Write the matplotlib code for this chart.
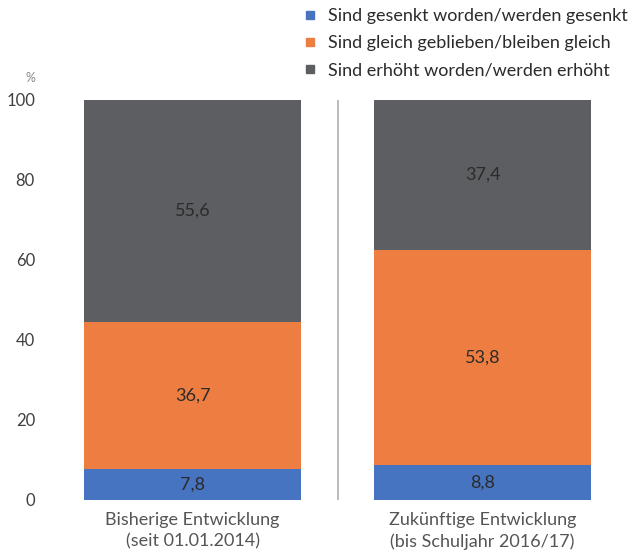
import numpy as np
import matplotlib
matplotlib.use("Agg")
import matplotlib.pyplot as plt
from matplotlib.lines import Line2D

plt.rcParams['font.family'] = ['Lato', 'DejaVu Sans']

# daten
kategorien = ["Bisherige Entwicklung\n(seit 01.01.2014)",
              "Zukünftige Entwicklung\n(bis Schuljahr 2016/17)"]
gesenkt = [7.8, 8.8]
gleich = [36.7, 53.8]
erhoeht = [55.6, 37.4]
serien_namen = ["Sind gesenkt worden/werden gesenkt",
                "Sind gleich geblieben/bleiben gleich",
                "Sind erhöht worden/werden erhöht"]
farben = ["#4674c1", "#ee7d42", "#5c5e61"]
y_ticks = [0, 20, 40, 60, 80, 100]


def fmt(v):
    return "{:.1f}".format(v).replace(".", ",")


def main():
    fig = plt.figure(figsize=(6.37, 5.55), dpi=100)
    ax = fig.add_axes([47.5 / 637, 55 / 555, 580 / 637, 400 / 555])

    x = np.arange(len(kategorien))
    unten = np.zeros(len(x))
    for werte, farbe in zip([gesenkt, gleich, erhoeht], farben):
        bars = ax.bar(x, werte, bottom=unten, width=0.745, color=farbe)
        for b, v, u in zip(bars, werte, unten):
            ax.text(b.get_x() + b.get_width() / 2, u + v / 2, fmt(v),
                    ha="center", va="center", fontsize=13, color="#2b2b2b")
        unten = unten + np.array(werte)

    # trennlinie
    ax.plot([0.5, 0.5], [0, 100], color="#b0b0b0", lw=1.2)

    ax.set_xlim(-0.5, 1.5)
    ax.set_ylim(0, 100)
    ax.set_yticks(y_ticks)
    ax.set_yticklabels([str(t) for t in y_ticks], fontsize=12, color="#404040")
    ax.set_xticks(x)
    ax.set_xticklabels(kategorien, fontsize=13, color="#555555", linespacing=1.35)
    ax.tick_params(length=0)
    ax.tick_params(axis="y", pad=9)
    ax.tick_params(axis="x", pad=9)
    for s in ax.spines.values():
        s.set_visible(False)

    fig.text(30 / 637, 1 - 78 / 555, "%", fontsize=9, color="#888888",
             ha="center", va="center")

    handles = [Line2D([], [], marker="s", linestyle="", markersize=6,
                      color=f) for f in farben]
    fig.legend(handles, serien_namen, loc="upper left",
               bbox_to_anchor=(303 / 637, 1 - 8 / 555), frameon=False,
               fontsize=13, handlelength=0.8, handletextpad=0.6,
               labelspacing=0.62, borderpad=0, borderaxespad=0,
               labelcolor="#2b2b2b")

    fig.savefig("out.png", dpi=100)


if __name__ == '__main__':
    main()
